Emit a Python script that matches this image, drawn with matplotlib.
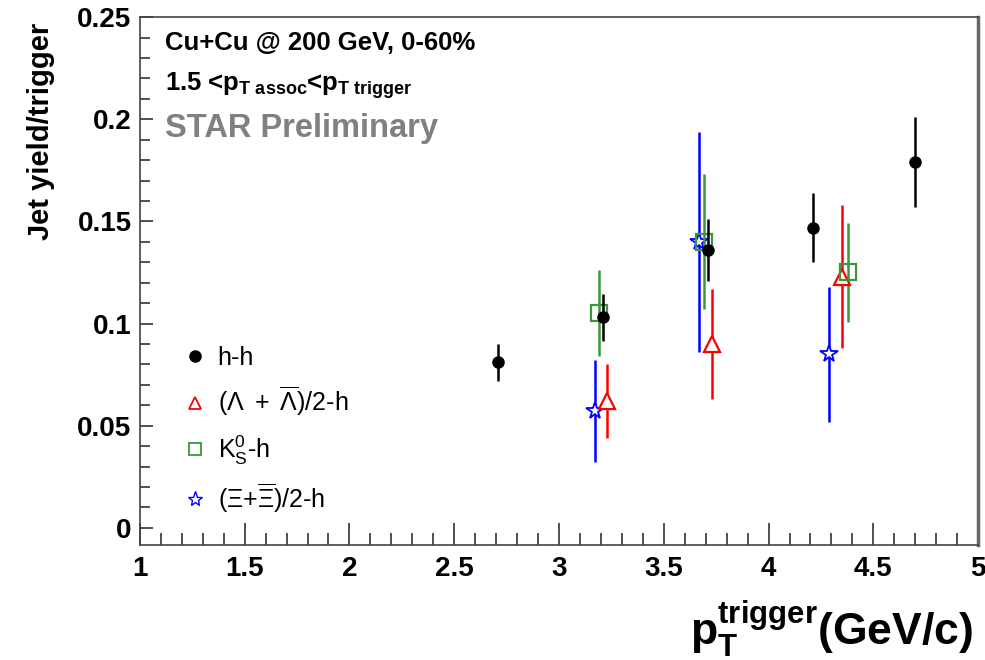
import matplotlib
matplotlib.use("Agg")
import matplotlib.pyplot as plt
from matplotlib.lines import Line2D
from matplotlib.ticker import MultipleLocator

plt.rcParams["font.family"] = ["Liberation Sans", "DejaVu Sans"]
plt.rcParams["mathtext.fontset"] = "custom"
plt.rcParams["mathtext.rm"] = "Liberation Sans"
plt.rcParams["mathtext.it"] = "Liberation Sans:italic"
plt.rcParams["mathtext.bf"] = "Liberation Sans:bold"

# ---------- data ----------
hh_x = [2.71, 3.21, 3.71, 4.21, 4.70]
hh_y = [0.081, 0.103, 0.136, 0.147, 0.179]
hh_err = [0.009, 0.0115, 0.015, 0.017, 0.022]

lam_x = [3.23, 3.73, 4.35]
lam_y = [0.062, 0.090, 0.123]
lam_err = [0.018, 0.027, 0.035]

k0s_x = [3.19, 3.69, 4.38]
k0s_y = [0.105, 0.140, 0.125]
k0s_err = [0.021, 0.033, 0.024]

xi_x = [3.17, 3.67, 4.29]
xi_y = [0.057, 0.140, 0.085]
xi_err = [0.025, 0.054, 0.033]

labels = [
    "h-h",
    r"$(\Lambda\ +\ \overline{\Lambda})$/2-h",
    r"K$_{\mathrm{S}}^{0}$-h",
    r"$(\Xi$+$\overline{\Xi})$/2-h",
]

# ---------- plot ----------
fig = plt.figure(figsize=(9.85, 6.6), dpi=100)
ax = fig.add_axes([0.142, 0.174, 0.851, 0.80])

green = "#3c963c"
ax.errorbar(hh_x, hh_y, yerr=hh_err, fmt="o", color="black", ms=8,
            elinewidth=1.8, capsize=0, zorder=5)
ax.errorbar(lam_x, lam_y, yerr=lam_err, fmt="^", color="red", mfc="white",
            ms=11, mew=1.6, elinewidth=1.8, capsize=0, zorder=4)
ax.errorbar(k0s_x, k0s_y, yerr=k0s_err, fmt="s", color=green, mfc="none",
            ms=11, mew=1.6, elinewidth=1.8, capsize=0, zorder=4)
ax.errorbar(xi_x, xi_y, yerr=xi_err, fmt="*", color="blue", mfc="white",
            ms=13, mew=1.3, elinewidth=1.8, capsize=0, zorder=3)

ax.set_xlim(1, 5)
ax.set_ylim(-0.0085, 0.25)

ax.xaxis.set_minor_locator(MultipleLocator(0.1))
ax.yaxis.set_minor_locator(MultipleLocator(0.01))
ax.set_xticks([1, 1.5, 2, 2.5, 3, 3.5, 4, 4.5, 5])
ax.set_xticklabels(["1", "1.5", "2", "2.5", "3", "3.5", "4", "4.5", "5"])
ax.set_yticks([0, 0.05, 0.1, 0.15, 0.2, 0.25])
ax.set_yticklabels(["0", "0.05", "0.1", "0.15", "0.2", "0.25"])

ax.tick_params(axis="both", which="both", direction="in", top=False, right=False,
               labelsize=20, width=1.2, color="#333333")
ax.tick_params(axis="x", which="major", length=16, pad=8)
ax.tick_params(axis="x", which="minor", length=9)
ax.tick_params(axis="y", which="major", length=9, pad=6)
ax.tick_params(axis="y", which="minor", length=7)
for lab in ax.get_xticklabels() + ax.get_yticklabels():
    lab.set_fontweight("bold")
for sp in ax.spines.values():
    sp.set_color("#444444")
    sp.set_linewidth(1.2)
ax.spines["right"].set_linewidth(2.5)
ax.spines["right"].set_color("#666666")

# axis titles
fig.text(41 / 985, 1 - 131 / 660, "Jet yield/trigger", rotation=90,
         fontsize=21, fontweight="bold", ha="center", va="center")
fig.text(0.988, 0.0,
         r"$\mathbf{p}_{\mathbf{T}}^{\mathbf{trigger}}$(GeV/c)",
         fontsize=32, fontweight="bold", ha="right", va="bottom")

# annotations in the top-left corner
ax.text(0.03, 0.951, "Cu+Cu @ 200 GeV, 0-60%", transform=ax.transAxes,
        fontsize=18.5, fontweight="bold", va="center")
ax.text(0.03, 0.871,
        r"1.5 <p$_{\mathbf{T\ assoc}}$<p$_{\mathbf{T\ trigger}}$",
        transform=ax.transAxes, fontsize=18.5, fontweight="bold", va="center")
ax.text(0.03, 0.79, "STAR Preliminary", transform=ax.transAxes,
        fontsize=23.5, fontweight="bold", color="#808080", va="center")

handles = [
    Line2D([], [], ls="", marker="o", color="black", ms=8),
    Line2D([], [], ls="", marker="^", color="red", mfc="white", ms=9, mew=1.3),
    Line2D([], [], ls="", marker="s", color=green, mfc="none", ms=9, mew=1.3),
    Line2D([], [], ls="", marker="*", color="blue", mfc="white", ms=11, mew=1.0),
]
ax.legend(handles, labels, loc="upper left", bbox_to_anchor=(0.042, 0.396),
          frameon=False, fontsize=18, handlelength=0.8, handletextpad=0.5,
          labelspacing=0.6, borderaxespad=0)

fig.savefig("out.png", dpi=100)
